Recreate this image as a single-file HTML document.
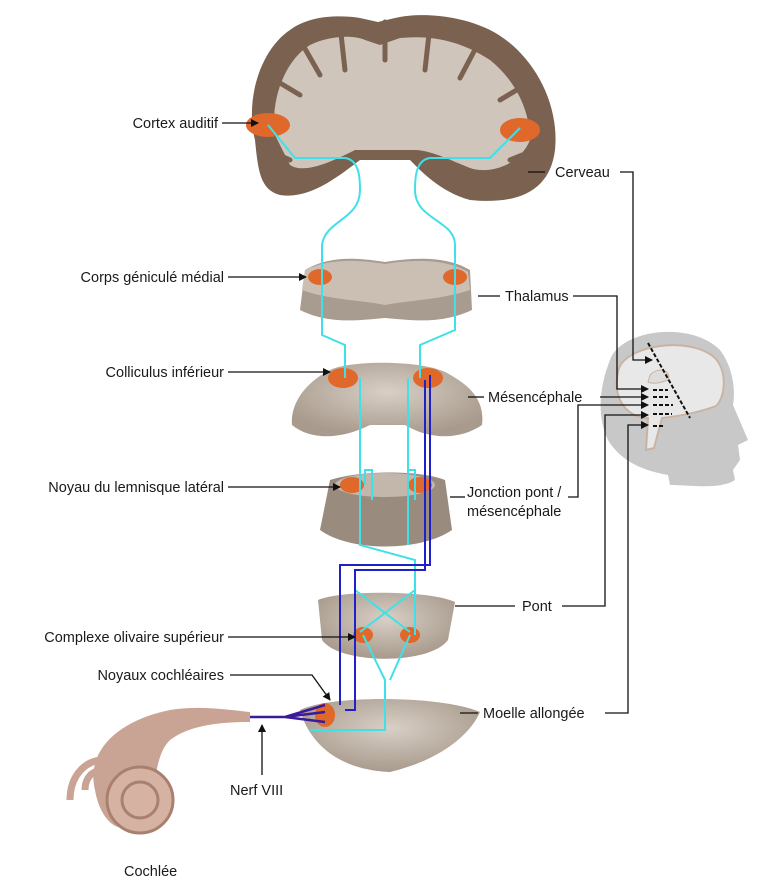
<!DOCTYPE html>
<html><head><meta charset="utf-8"><style>
body{margin:0;background:#fff;}
svg{display:block;}
text{font-family:"Liberation Sans",sans-serif;font-size:14.5px;fill:#1a1a1a;}
</style></head><body>
<svg width="760" height="890" viewBox="0 0 760 890" xmlns="http://www.w3.org/2000/svg">
<defs>
<marker id="a" markerWidth="8" markerHeight="8" refX="7" refY="4" orient="auto" markerUnits="userSpaceOnUse"><path d="M0,0 L8,4 L0,8 z" fill="#111"/></marker>
<radialGradient id="g1" cx="50%" cy="40%" r="60%"><stop offset="0" stop-color="#d8cfc6"/><stop offset="1" stop-color="#a89a8c"/></radialGradient>
</defs>
<!-- head -->
<path d="M610,360 C620,330 690,320 720,350 C735,370 735,395 733,405 L748,440 L738,445 L740,460 L733,470 L735,480 C720,490 690,485 670,485 L668,475 C640,470 620,460 608,440 C596,415 600,385 610,360 z" fill="#c8c8c8"/>
<path d="M618,372 C622,345 690,335 715,358 C728,372 725,398 716,406 C700,412 680,416 662,418 L654,448 L646,450 L648,418 C628,418 612,400 618,372 z" fill="#e8e8e8" stroke="#c9b3a3" stroke-width="2"/>
<path d="M650,375 C660,365 672,372 668,380 C662,382 655,385 648,382 z" fill="#ddd" stroke="#c9b3a3"/>
<g stroke="#111" stroke-width="2" stroke-dasharray="4,2"><line x1="648" y1="343" x2="690" y2="418"/><line x1="653" y1="390" x2="668" y2="390"/><line x1="653" y1="397" x2="668" y2="397"/><line x1="653" y1="405" x2="673" y2="405"/><line x1="653" y1="414" x2="672" y2="414"/><line x1="653" y1="426" x2="663" y2="426"/></g>
<!-- cortex -->
<path d="M255,140 C245,100 260,50 290,30 C310,15 340,15 360,18 L378,22 L395,18 C420,12 460,15 490,30 C530,50 560,100 555,150 C550,190 520,205 470,200 C440,192 420,170 410,160 L360,160 C340,175 310,200 280,195 C260,190 258,170 255,140 z" fill="#7a6150"/>
<path d="M275,135 C270,100 285,60 310,45 C330,35 355,35 365,40 L380,45 L400,38 C430,35 460,40 490,60 C515,80 530,110 530,140 C520,165 490,175 470,168 C450,160 430,150 415,150 L355,150 C335,160 305,175 290,165 z" fill="#cfc5bb"/>
<g stroke="#7a6150" stroke-width="5" fill="none" stroke-linecap="round">
<path d="M300,40 L320,75"/><path d="M275,80 L300,95"/><path d="M340,25 L345,70"/><path d="M430,25 L425,70"/><path d="M480,40 L460,78"/><path d="M525,85 L500,100"/><path d="M268,150 L290,160"/><path d="M535,150 L510,160"/><path d="M385,22 L385,60"/>
</g>
<ellipse cx="268" cy="125" rx="22" ry="12" fill="#e0682a"/><ellipse cx="520" cy="130" rx="20" ry="12" fill="#e0682a"/>
<!-- thalamus -->
<path d="M305,270 C330,255 360,258 385,262 C410,258 445,255 470,270 L472,310 C440,325 410,320 385,318 C360,320 330,325 300,310 z" fill="#a89c90"/>
<path d="M305,270 C330,258 360,260 385,264 C410,260 445,258 468,272 L470,290 C440,300 410,300 385,305 C360,300 330,300 302,290 z" fill="#cbbfb4"/>
<ellipse cx="320" cy="277" rx="12" ry="8" fill="#e0682a"/><ellipse cx="455" cy="277" rx="12" ry="8" fill="#e0682a"/>
<!-- midbrain -->
<path d="M330,370 C350,360 420,360 445,372 C470,385 485,400 482,425 C460,440 430,440 405,425 L370,425 C340,440 310,440 292,425 C290,400 310,380 330,370 z" fill="url(#g1)"/>
<ellipse cx="343" cy="378" rx="15" ry="10" fill="#e0682a"/><ellipse cx="428" cy="378" rx="15" ry="10" fill="#e0682a"/>
<!-- junction -->
<path d="M330,480 C360,470 420,470 445,480 L452,530 C420,552 350,552 320,530 z" fill="#9a8b7f"/>
<ellipse cx="385" cy="485" rx="50" ry="12" fill="#c3b7ac"/>
<ellipse cx="352" cy="485" rx="12" ry="8" fill="#e0682a"/><ellipse cx="420" cy="485" rx="12" ry="8" fill="#e0682a"/>
<!-- pons -->
<path d="M318,600 C340,590 430,590 455,602 L448,640 C430,665 340,665 322,640 z" fill="url(#g1)"/>
<ellipse cx="363" cy="635" rx="10" ry="8" fill="#e0682a"/><ellipse cx="410" cy="635" rx="10" ry="8" fill="#e0682a"/>
<!-- medulla -->
<path d="M300,710 C330,695 440,695 480,712 C470,735 440,760 390,772 C340,770 310,745 300,710 z" fill="url(#g1)"/>
<ellipse cx="325" cy="715" rx="10" ry="12" fill="#e0682a"/>
<!-- cochlea -->
<path d="M95,790 C85,750 120,720 170,710 C200,705 230,710 250,712 L250,722 C220,722 190,725 170,740 C150,760 160,800 140,820 C120,840 100,820 95,790 z" fill="#c9a495"/>
<circle cx="140" cy="800" r="33" fill="#d6b2a3" stroke="#a8806f" stroke-width="3"/>
<circle cx="140" cy="800" r="18" fill="none" stroke="#a8806f" stroke-width="3"/>
<path d="M70,800 C70,760 110,750 120,770 M85,790 C85,770 105,765 110,778" fill="none" stroke="#c9a495" stroke-width="7"/>
<!-- nerve -->
<path d="M250,717 L285,717 L325,705 M285,717 L325,722 M285,717 L325,712" fill="none" stroke="#3b1a9a" stroke-width="2.5"/>
<!-- pathways -->
<g fill="none" stroke="#40e0e8" stroke-width="2">
<path d="M268,125 L295,158 L345,158 C360,160 360,180 360,190 C360,220 325,220 322,245 L322,277"/>
<path d="M520,128 L490,158 L430,158 C415,160 415,180 415,190 C415,220 455,220 455,245 L455,277"/>
<path d="M322,277 L322,335 L345,345 L345,378"/>
<path d="M455,277 L455,330 L420,345 L420,378"/>
<path d="M360,378 L360,545 L415,560 L415,635 M408,378 L408,545"/>
<path d="M365,485 L365,470 L372,470 L372,500 M408,485 L408,470 L415,470 L415,500"/>
<path d="M355,590 L410,632 M415,590 L360,632 M363,635 L385,680 L385,730 L310,730 M410,635 L390,680"/>
</g>
<g fill="none" stroke="#2020c8" stroke-width="2"><path d="M340,705 L340,565 L430,565 L430,375 M345,710 L355,710 L355,570 L425,570 L425,380"/></g>
<!-- connectors -->
<g stroke="#111" stroke-width="1.3" fill="none">
<line x1="222" y1="123" x2="258" y2="123" marker-end="url(#a)"/>
<line x1="228" y1="277" x2="306" y2="277" marker-end="url(#a)"/>
<line x1="228" y1="372" x2="330" y2="372" marker-end="url(#a)"/>
<line x1="228" y1="487" x2="340" y2="487" marker-end="url(#a)"/>
<line x1="228" y1="637" x2="355" y2="637" marker-end="url(#a)"/>
<path d="M230,675 L312,675 L330,700" marker-end="url(#a)"/>
<line x1="262" y1="775" x2="262" y2="725" marker-end="url(#a)"/>
<line x1="545" y1="172" x2="528" y2="172"/>
<path d="M620,172 L633,172 L633,360 L652,360" marker-end="url(#a)"/>
<line x1="478" y1="296" x2="500" y2="296"/>
<path d="M573,296 L617,296 L617,389 L648,389" marker-end="url(#a)"/>
<line x1="468" y1="397" x2="484" y2="397"/>
<line x1="600" y1="397" x2="648" y2="397" marker-end="url(#a)"/>
<line x1="450" y1="497" x2="465" y2="497"/>
<path d="M568,497 L578,497 L578,405 L648,405" marker-end="url(#a)"/>
<line x1="455" y1="606" x2="515" y2="606"/>
<path d="M562,606 L605,606 L605,415 L648,415" marker-end="url(#a)"/>
<line x1="460" y1="713" x2="478" y2="713"/>
<path d="M605,713 L628,713 L628,425 L648,425" marker-end="url(#a)"/>
</g>
<g>
<text x="218" y="128" text-anchor="end">Cortex auditif</text>
<text x="224" y="282" text-anchor="end">Corps géniculé médial</text>
<text x="224" y="377" text-anchor="end">Colliculus inférieur</text>
<text x="224" y="492" text-anchor="end">Noyau du lemnisque latéral</text>
<text x="224" y="642" text-anchor="end">Complexe olivaire supérieur</text>
<text x="224" y="680" text-anchor="end">Noyaux cochléaires</text>
<text x="230" y="795">Nerf VIII</text>
<text x="124" y="876">Cochlée</text>
<text x="555" y="177">Cerveau</text>
<text x="505" y="301">Thalamus</text>
<text x="488" y="402">Mésencéphale</text>
<text x="467" y="497">Jonction pont /</text>
<text x="467" y="516">mésencéphale</text>
<text x="522" y="611">Pont</text>
<text x="483" y="718">Moelle allongée</text>
</g>
</svg>
</body></html>
